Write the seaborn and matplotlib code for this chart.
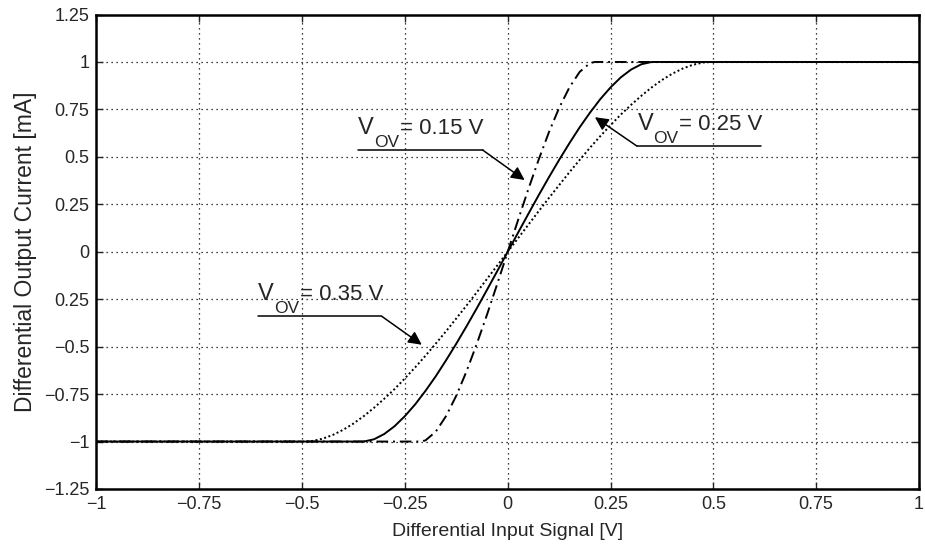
import numpy as np
import pandas as pd
import matplotlib
matplotlib.use("Agg")
import matplotlib.pyplot as plt
import seaborn as sns

# Transfer curves (Vov = 0.15 / 0.25 / 0.35 V)
x_015 = [-1.0, -0.212, -0.2, -0.175, -0.15, -0.125, -0.1, -0.075, -0.05, -0.025, 0.0,
         0.025, 0.05, 0.075, 0.1, 0.125, 0.15, 0.175, 0.2, 0.212, 1.0]
y_015 = [-1.0, -1.0, -0.994, -0.948, -0.866, -0.758, -0.629, -0.484, -0.329, -0.166, 0.0,
         0.166, 0.329, 0.484, 0.629, 0.758, 0.866, 0.948, 0.994, 1.0, 1.0]

x_025 = [-1.0, -0.354, -0.35, -0.325, -0.3, -0.275, -0.25, -0.225, -0.2, -0.175, -0.15,
         -0.125, -0.1, -0.075, -0.05, -0.025, 0.0, 0.025, 0.05, 0.075, 0.1, 0.125,
         0.15, 0.175, 0.2, 0.225, 0.25, 0.275, 0.3, 0.325, 0.35, 0.354, 1.0]
y_025 = [-1.0, -1.0, -1.0, -0.988, -0.96, -0.919, -0.866, -0.804, -0.733, -0.656, -0.572,
         -0.484, -0.392, -0.297, -0.199, -0.100, 0.0, 0.100, 0.199, 0.297, 0.392, 0.484,
         0.572, 0.656, 0.733, 0.804, 0.866, 0.919, 0.96, 0.988, 1.0, 1.0, 1.0]

x_035 = [-1.0, -0.495, -0.475, -0.45, -0.425, -0.4, -0.375, -0.35, -0.325, -0.3, -0.275,
         -0.25, -0.225, -0.2, -0.175, -0.15, -0.125, -0.1, -0.075, -0.05, -0.025, 0.0,
         0.025, 0.05, 0.075, 0.1, 0.125, 0.15, 0.175, 0.2, 0.225, 0.25, 0.275, 0.3,
         0.325, 0.35, 0.375, 0.4, 0.425, 0.45, 0.475, 0.495, 1.0]
y_035 = [-1.0, -1.0, -0.997, -0.985, -0.965, -0.938, -0.905, -0.866, -0.822, -0.774, -0.723,
         -0.667, -0.609, -0.548, -0.484, -0.419, -0.351, -0.283, -0.213, -0.142, -0.071, 0.0,
         0.071, 0.142, 0.213, 0.283, 0.351, 0.419, 0.484, 0.548, 0.609, 0.667, 0.723, 0.774,
         0.822, 0.866, 0.905, 0.938, 0.965, 0.985, 0.997, 1.0, 1.0]

x_ticks = [-1, -0.75, -0.5, -0.25, 0, 0.25, 0.5, 0.75, 1]
x_tick_labels = ["\u22121", "\u22120.75", "\u22120.5", "\u22120.25", "0", "0.25", "0.5", "0.75", "1"]
y_ticks = [-1.25, -1, -0.75, -0.5, -0.25, 0, 0.25, 0.5, 0.75, 1, 1.25]
y_tick_labels = ["\u22121.25", "\u22121", "\u22120.75", "\u22120.5", "0.25", "0",
                 "0.25", "0.5", "0.75", "1", "1.25"]

# label text, underline (x start, y, x end), arrow tip (x, y)
ann_values = ["= 0.15 V", "= 0.25 V", "= 0.35 V"]
ann_line = [(-0.365, 0.536, -0.061), (0.314, 0.557, 0.616), (-0.608, -0.339, -0.307)]
ann_tip = [(0.041, 0.378), (0.212, 0.709), (-0.209, -0.49)]

sns.set_style("ticks")
plt.rcParams['font.family'] = ['Liberation Sans', 'DejaVu Sans']

fig = plt.figure(figsize=(9.25, 5.48), dpi=100)
ax = fig.add_axes([0.1043, 0.1077, 0.8892, 0.8658])

def draw(xs, ys, ls):
    df = pd.DataFrame({'x': xs, 'y': ys})
    sns.lineplot(data=df, x='x', y='y', ax=ax, color='black', linestyle=ls,
                 linewidth=1.4, sort=False, estimator=None)

draw(x_015, y_015, (0, (6, 2.5, 1, 2.5)))
draw(x_025, y_025, '-')
draw(x_035, y_035, (0, (1, 1.3)))

ax.set_xlim(-1, 1)
ax.set_ylim(-1.25, 1.25)
ax.set_xticks(x_ticks)
ax.set_xticklabels(x_tick_labels)
ax.set_yticks(y_ticks)
ax.set_yticklabels(y_tick_labels)
ax.tick_params(direction='in', top=True, right=True, labelsize=13, length=5, width=1, pad=5)
ax.grid(True, color='black', linestyle=(0, (1, 3)), linewidth=0.9)
for s in ax.spines.values():
    s.set_linewidth(1.8)
    s.set_color('black')

ax.set_xlabel("Differential Input Signal [V]", fontsize=14, labelpad=7)
ax.set_ylabel("Differential Output Current [mA]", fontsize=16.5, labelpad=5)

for val, (x0, yl, x1), (tx, ty) in zip(ann_values, ann_line, ann_tip):
    ax.annotate("V", xy=(x0, yl), xytext=(0.5, 11.5), textcoords='offset points',
                fontsize=17, ha='left', va='baseline')
    ax.annotate("OV", xy=(x0, yl), xytext=(12, 2), textcoords='offset points',
                fontsize=12.5, ha='left', va='baseline')
    ax.annotate(val, xy=(x0, yl), xytext=(30.5, 11.5), textcoords='offset points',
                fontsize=16, ha='left', va='baseline')
    ax.plot([x0, x1], [yl, yl], color='black', linewidth=1.1)
    start = x1 if tx > x1 else x0
    ax.annotate("", xy=(tx, ty), xytext=(start, yl),
                arrowprops=dict(arrowstyle='-|>', color='black', lw=1.1,
                                mutation_scale=20, shrinkA=0, shrinkB=0))

fig.savefig("out.png", dpi=100)
